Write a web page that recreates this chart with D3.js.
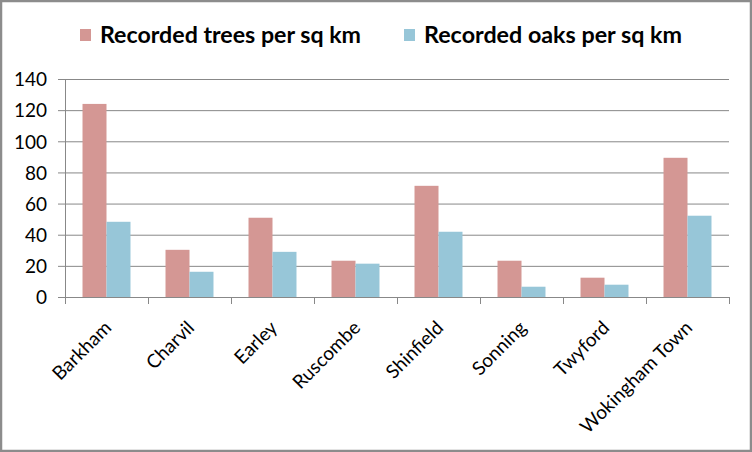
<!DOCTYPE html>
<html>
<head>
<meta charset="utf-8">
<script src="https://cdn.jsdelivr.net/npm/d3@7"></script>
<style>
  body { margin: 0; background: #fff; }
  svg text { font-family: Lato, "Open Sans", sans-serif; fill: #000; }
</style>
</head>
<body>
<div id="chart"></div>
<script>
// Trees and oaks per sq km, by parish

const parishes = ["Barkham", "Charvil", "Earley", "Ruscombe", "Shinfield", "Sonning", "Twyford", "Wokingham Town"];
const treesPerSqKm = [124, 30.3, 50.9, 23.3, 71.4, 23.3, 12.4, 89.4];
const oaksPerSqKm = [48.3, 16.2, 29, 21.4, 41.9, 6.6, 7.9, 52.2];
const seriesNames = ["Recorded trees per sq km", "Recorded oaks per sq km"];
const yTicks = [0, 20, 40, 60, 80, 100, 120, 140];

const w = 752, h = 452;
const p_t = 79, p_r = 23, p_b = 155, p_l = 65; // padding, clockwise from top
const colors = ["#D49794", "#97C6D8"];
const gridColor = "#888888";

const svg = d3.select("#chart").
append("svg").
attr("width", w).
attr("height", h);

// outer frame
svg.append("rect").
attr("x", 1).attr("y", 1).
attr("width", w - 2).attr("height", h - 2).
attr("fill", "#fff").
attr("stroke", "#8c8c8c").
attr("stroke-width", 2.5);

// Scales
const xScale = d3.scaleBand().
domain(parishes).
range([p_l, w - p_r]).
padding(0);

const bw = xScale.bandwidth();
const xSub = d3.scaleBand().
domain([0, 1]).
range([bw * 0.211, bw * 0.789]).
padding(0);

const yScale = d3.scaleLinear().
domain([0, 140]).
range([h - p_b, p_t]);

// Gridlines + y axis
const yAxis = svg.append("g").
attr("transform", `translate(${p_l} 0)`).
call(d3.axisLeft(yScale).tickValues(yTicks).tickSize(-(w - p_l - p_r)).tickSizeOuter(0).tickPadding(18));
yAxis.select(".domain").attr("stroke", gridColor);
yAxis.selectAll(".tick line").attr("x1", -7).attr("stroke", gridColor);
yAxis.selectAll(".tick text").
style("font-size", "19px").
attr("dy", "0.36em");

// Bars
const rows = parishes.map((p, i) => ({ parish: p, values: [treesPerSqKm[i], oaksPerSqKm[i]] }));

svg.append("g").
selectAll("g").
data(rows).
enter().
append("g").
attr("transform", d => `translate(${xScale(d.parish)} 0)`).
selectAll("rect").
data(d => d.values.map((v, k) => ({ k, v }))).
enter().
append("rect").
attr("x", d => xSub(d.k)).
attr("width", xSub.bandwidth()).
attr("y", d => yScale(d.v)).
attr("height", d => yScale(0) - yScale(d.v)).
attr("fill", d => colors[d.k]);

// x axis: ticks between categories
const xEdge = d3.scaleLinear().domain([0, parishes.length]).range([p_l, w - p_r]);
const xAxis = svg.append("g").
attr("transform", `translate(0 ${h - p_b})`).
call(d3.axisBottom(xEdge).tickValues(d3.range(parishes.length + 1)).tickFormat("").tickSize(7).tickSizeOuter(0));
xAxis.selectAll("path, line").attr("stroke", gridColor);

// category labels
const xLabels = svg.append("g").
attr("transform", `translate(0 ${h - p_b})`).
call(d3.axisBottom(xScale).tickSize(0).tickPadding(0));
xLabels.select(".domain").remove();
xLabels.selectAll(".tick text").
style("font-size", "19px").
attr("text-anchor", "end").
attr("dy", 0).
attr("transform", "translate(6 32) rotate(-45)");

// Legend
const legend = svg.append("g");
const legendX = [80, 404];
const legendLen = [261, 258];
seriesNames.forEach((name, i) => {
  legend.append("rect").
  attr("x", legendX[i]).attr("y", 29).
  attr("width", 11).attr("height", 12).
  attr("fill", colors[i]);
  legend.append("text").
  attr("x", legendX[i] + 20).
  attr("y", 43).
  attr("textLength", legendLen[i]).
  attr("lengthAdjust", "spacingAndGlyphs").
  style("font-size", "22px").
  style("font-weight", "bold").
  text(name);
});
</script>
</body>
</html>
